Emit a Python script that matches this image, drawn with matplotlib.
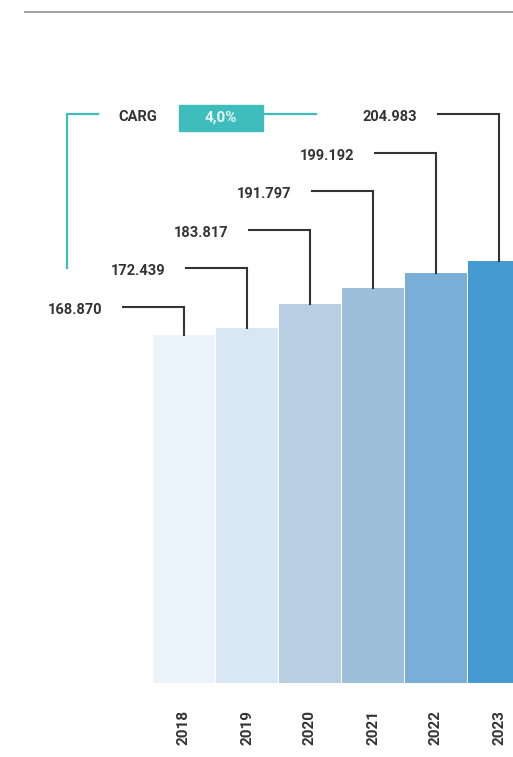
import matplotlib.pyplot as plt

# dati
years = ['2018', '2019', '2020', '2021', '2022', '2023']
values = [168870, 172439, 183817, 191797, 199192, 204983]
labels = ['168.870', '172.439', '183.817', '191.797', '199.192', '204.983']
bar_colors = ['#ebf3fb', '#d9e6f4', '#b8cfe3', '#9dc0da', '#79aed6', '#4499d0']
cagr_label = 'CARG'
cagr_value = '4,0%'

W, H = 513, 757
fig = plt.figure(figsize=(W / 100, H / 100), dpi=100)
fig.patch.set_facecolor('white')

# asse principale: fondo a y=683 px, scala ~0.00206 px per unità
ax = fig.add_axes([0, (H - 683) / H, 1, 683 / H])
ax.set_xlim(-184 / 63, (W - 184) / 63)
ax.set_ylim(0, 683 / 0.00206)
ax.axis('off')

x = list(range(len(years)))
ax.bar(x, values, width=0.985, color=bar_colors, edgecolor='none', zorder=2)

# etichette con linee guida
dark = '#333333'
for i, (v, lab) in enumerate(zip(values, labels)):
    ly = (683 - (307 - 38.6 * i)) / 0.00206
    ax.plot([i - 0.97, i, i], [ly, ly, v], color=dark, lw=1.5,
            solid_joinstyle='miter', zorder=3)
    ax.text(i - 1.73, ly - 1500, lab, ha='center', va='center',
            fontsize=10.5, fontweight='bold', color=dark, family='Roboto')

# anni sotto le barre
for i, yr in enumerate(years):
    ax.text(i, -27 / 0.00206, yr, rotation=90, ha='center', va='top',
            fontsize=11, fontweight='bold', color=dark, family='Roboto',
            clip_on=False)

# CAGR in coordinate pixel della figura
teal = '#3fbcbc'
def px(xp, yp):
    return xp / W, 1 - yp / H

fig.add_artist(plt.Line2D([67 / W, 67 / W, 98 / W], [1 - 268 / H, 1 - 114 / H, 1 - 114 / H],
                          color=teal, lw=1.6, transform=fig.transFigure))
fig.add_artist(plt.Line2D([265 / W, 316 / W], [1 - 114 / H, 1 - 114 / H],
                          color=teal, lw=1.6, transform=fig.transFigure))
fig.add_artist(plt.Rectangle(px(179, 131), 84 / W, 26 / H, color=teal,
                             transform=fig.transFigure))
fig.text(*px(138, 117), cagr_label, ha='center', va='center', fontsize=10.5,
         fontweight='bold', color=dark, family='Roboto')
fig.text(*px(221, 118), cagr_value, ha='center', va='center', fontsize=11,
         fontweight='bold', color='#e8f7f7', family='Roboto')

# linea del titolo in alto
fig.add_artist(plt.Line2D([25 / W, 1], [1 - 12 / H, 1 - 12 / H],
                          color='#a0a0a0', lw=1.4, transform=fig.transFigure))

fig.savefig('out.png', dpi=100, facecolor='white')
